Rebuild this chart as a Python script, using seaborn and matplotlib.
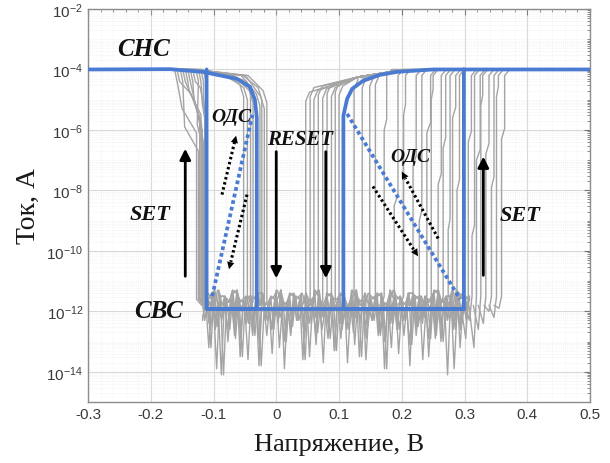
import numpy as np
import pandas as pd
import matplotlib
matplotlib.use("Agg")
import matplotlib.pyplot as plt
import seaborn as sns
from matplotlib.ticker import FixedLocator, MultipleLocator, NullFormatter

# ---------------- data (log10 of current, voltage in V) ----------------
x_ticks = [-0.3, -0.2, -0.1, 0.0, 0.1, 0.2, 0.3, 0.4, 0.5]
x_tick_labels = ["-0.3", "-0.2", "-0.1", "0", "0.1", "0.2", "0.3", "0.4", "0.5"]
y_tick_exps = [-14, -12, -10, -8, -6, -4, -2]
y_tick_labels = [r"$\mathdefault{10^{%d}}$" % e for e in y_tick_exps]

# blue "typical" cycle
blue_left_v = [-0.30, -0.169, -0.117, -0.063, -0.042, -0.034, -0.031, -0.031, -0.111, -0.111]
blue_left_log = [-4.0, -3.99, -4.08, -4.31, -4.57, -5.0, -5.6, -11.92, -11.92, -4.0]
blue_right_v = [0.50, 0.299, 0.299, 0.107, 0.107, 0.113, 0.121, 0.138, 0.165, 0.192, 0.25, 0.299]
blue_right_log = [-4.0, -4.0, -11.92, -11.92, -5.53, -4.97, -4.64, -4.38, -4.18, -4.08, -4.0, -4.0]
blue_floor_v = [-0.111, 0.299]
blue_floor_log = [-11.92, -11.92]
# blue dashed (ОДС branches)
dash_left_v = [-0.102, -0.038]
dash_left_log = [-11.5, -5.5]
dash_right_v = [0.113, 0.293]
dash_right_log = [-5.47, -11.6]

# gray cycles: negative-side LRS->HRS drops
neg_drop_start_v = [-0.162, -0.158, -0.153, -0.149, -0.145, -0.141, -0.137, -0.133, -0.128, -0.124, -0.120, -0.116]
neg_drop_knee_v = [-0.150, -0.136, -0.146, -0.128, -0.139, -0.124, -0.131, -0.121, -0.126, -0.118, -0.116, -0.113]
neg_drop_knee_log = [-5.3, -4.8, -5.9, -5.2, -4.7, -5.6, -5.0, -4.6, -5.8, -5.1, -4.9, -5.4]
neg_drop_end_v = [-0.127, -0.122, -0.124, -0.118, -0.120, -0.116, -0.119, -0.114, -0.117, -0.112, -0.113, -0.110]
# negative-side return branches
neg_ret_v = [-0.052, -0.046, -0.041, -0.037, -0.026, -0.023, -0.019, -0.015]
neg_ret_top_log = [-4.5, -4.6, -4.4, -4.7, -4.8, -4.6, -4.9, -4.7]
# positive-side reset branches
pos_reset_v = [0.047, 0.054, 0.060, 0.067, 0.074, 0.081, 0.088, 0.094, 0.100, 0.124, 0.137, 0.149, 0.158]
pos_reset_top_log = [-4.75, -4.6, -4.7, -4.55, -4.65, -4.5, -4.6, -4.45, -4.55, -4.35, -4.3, -4.25, -4.2]
# positive-side set branches
pos_set_v = [0.172, 0.188, 0.203, 0.218, 0.228, 0.240, 0.247, 0.258, 0.266, 0.274, 0.281, 0.288,
             0.306, 0.312, 0.319, 0.326, 0.334, 0.343, 0.351, 0.359]
pos_set_step_log = [-6.0, -8.5, -5.5, -7.2, -9.0, -6.1, -5.0, -7.8, -6.6, -9.3, -5.6, -8.0,
                    -6.4, -9.5, -7.0, -5.2, -6.8, -7.9, -4.9, -6.3]
pos_set_step_dv = [0.004, 0.006, 0.003, 0.005, 0.004, 0.006, 0.003, 0.005, 0.004, 0.003, 0.005, 0.004,
                   0.005, 0.004, 0.006, 0.003, 0.005, 0.004, 0.003, 0.005]
pos_set_floor_log = [-11.8, -11.9, -11.7, -11.8, -12.0, -11.8, -11.7, -11.9, -11.8, -12.1, -11.7, -11.9,
                     -12.9, -12.3, -13.2, -12.6, -12.4, -12.0, -12.2, -11.9]

# HRS floor noise, sampled every 0.01 V from -0.12 V to 0.30 V
floor_v = [round(-0.12 + 0.01 * i, 3) for i in range(43)]
floor_a = [-11.8, -12.6, -13.9, -12.2, -11.7, -12.9, -12.0, -13.6, -12.3, -11.8, -12.8, -12.1, -13.2, -11.9,
           -12.4, -12.0, -12.9, -11.8, -12.2, -13.7, -12.0, -11.9, -12.6, -12.1, -13.1, -11.8, -12.3, -12.0,
           -12.7, -11.9, -12.2, -13.4, -12.0, -11.8, -12.5, -12.1, -11.9, -12.8, -12.0, -11.8, -12.3, -12.0, -11.9]
floor_b = [-11.6, -11.4, -11.8, -11.5, -11.7, -11.3, -11.6, -11.9, -11.5, -11.4, -11.7, -11.6, -11.3, -11.8,
           -11.5, -11.6, -11.4, -11.7, -11.5, -11.9, -11.4, -11.6, -11.5, -11.7, -11.3, -11.6, -11.8, -11.5,
           -11.4, -11.7, -11.6, -11.5, -11.8, -11.4, -11.6, -11.5, -11.7, -11.4, -11.6, -11.5, -11.3, -11.6, -11.5]
floor_c = [-12.3, -13.2, -12.5, -14.1, -12.6, -12.2, -13.5, -12.4, -12.8, -13.8, -12.3, -12.6, -12.2, -13.0,
           -12.5, -12.3, -13.6, -12.4, -12.7, -12.2, -12.9, -13.3, -12.4, -12.6, -12.2, -13.5, -12.5, -12.3,
           -12.8, -13.9, -12.4, -12.6, -12.3, -13.1, -12.5, -12.2, -12.9, -12.4, -13.0, -12.3, -12.6, -12.4, -12.2]

# ---------------- build long tables ----------------
rows = []
def add(unit, vs, logs):
    for v, l in zip(vs, logs):
        rows.append({"unit": unit, "V": v, "I": 10.0 ** l})

u = 0
for s, kv, kl, e in zip(neg_drop_start_v, neg_drop_knee_v, neg_drop_knee_log, neg_drop_end_v):
    add(u, [-0.30, s, s + 0.004, kv, e, e, e + 0.008],
        [-4.0, -4.0, -4.4, kl, kl - 0.8, -11.6, -11.8]); u += 1
for v, t in zip(neg_ret_v, neg_ret_top_log):
    add(u, [-0.11, v - 0.03, v - 0.006, v, v], [-4.05, -4.2, t, t - 0.4, -11.7]); u += 1
for v, t in zip(pos_reset_v, pos_reset_top_log):
    add(u, [0.50, 0.24, 0.19, 0.13, v + 0.006, v, v], [-4.0, -4.0, -4.05, -4.25, t, t - 0.3, -11.7]); u += 1
for v, st, dv, fl in zip(pos_set_v, pos_set_step_log, pos_set_step_dv, pos_set_floor_log):
    add(u, [v - 0.012, v - 0.004, v, v, v + dv, v + dv, v + dv + 0.008, 0.50],
        [-11.8, fl, -11.5, st, st + 0.35, -4.2, -4.0, -4.0]); u += 1

def add_zigzag(unit, la, lb, shift):
    vs, ls = [], []
    for v, a, b in zip(floor_v, la, lb):
        vs += [v + shift, v + shift + 0.005]
        ls += [a, b]
    add(unit, vs, ls)

add_zigzag(u, floor_b, floor_a, 0.0); u += 1
add_zigzag(u, floor_c, floor_b, 0.0025); u += 1
add_zigzag(u, floor_b[::-1], floor_c, 0.001); u += 1
add_zigzag(u, floor_a[::-1], floor_b[::-1], 0.0035); u += 1
add_zigzag(u, floor_b, floor_b[::-1], 0.0015); u += 1
add_zigzag(u, floor_c[::-1], floor_b, 0.003); u += 1
add_zigzag(u, floor_b[::-1], floor_b, 0.002); u += 1
df_gray = pd.DataFrame(rows)

rows = []
add(0, blue_left_v, blue_left_log)
add(1, blue_right_v, blue_right_log)
add(2, blue_floor_v, blue_floor_log)
df_blue = pd.DataFrame(rows)

rows = []
add(0, dash_left_v, dash_left_log)
add(1, dash_right_v, dash_right_log)
df_dash = pd.DataFrame(rows)

# ---------------- plotting ----------------
sns.set_theme(style="white")
plt.rcParams["font.family"] = ["Liberation Sans", "DejaVu Sans"]
plt.rcParams["mathtext.fontset"] = "custom"
plt.rcParams["mathtext.rm"] = "Liberation Sans"
plt.rcParams["mathtext.it"] = "Liberation Sans:italic"

GRAY = "#a4a4a4"
BLUE = "#4a7bd3"
SERIF = ["Liberation Serif", "DejaVu Serif"]

fig = plt.figure(figsize=(6.1, 4.64), dpi=100)
ax = fig.add_axes([88 / 610, 61 / 464, 502 / 610, 393 / 464])
ax.set_yscale("log")

sns.lineplot(data=df_gray, x="V", y="I", units="unit", estimator=None, sort=False,
             color=GRAY, lw=1.0, ax=ax, legend=False, zorder=2)
sns.lineplot(data=df_blue, x="V", y="I", units="unit", estimator=None, sort=False,
             color=BLUE, lw=2.7, ax=ax, legend=False, zorder=4)
for unit, g in df_dash.groupby("unit"):
    ax.plot(g["V"], g["I"], color=BLUE, lw=2.7, ls=(0, (1.0, 0.8)),
            dash_capstyle="butt", zorder=4)

ax.set_xlim(-0.3, 0.5)
ax.set_ylim(1e-15, 1e-2)
ax.set_xticks(x_ticks)
ax.set_xticklabels(x_tick_labels)
ax.xaxis.set_minor_locator(MultipleLocator(0.02))
ax.set_yticks([10.0 ** e for e in y_tick_exps])
ax.set_yticklabels(y_tick_labels)
minor_y = [m * 10.0 ** d for d in range(-15, -2) for m in range(1, 10) if not (m == 1 and d % 2 == 0)]
ax.yaxis.set_minor_locator(FixedLocator(minor_y))
ax.yaxis.set_minor_formatter(NullFormatter())
ax.set_ylim(1e-15, 1e-2)

ax.grid(which="major", color="#d9d9d9", lw=0.8, zorder=0)
ax.grid(which="minor", color="#ebebeb", lw=0.5, ls=":", zorder=0)
ax.set_axisbelow(True)
ax.tick_params(which="both", direction="in", top=True, right=True, color="#777777",
               labelcolor="#3a3a3a", labelsize=11)
ax.tick_params(which="major", length=4, width=0.8)
ax.tick_params(which="minor", length=2, width=0.6)
for sp in ax.spines.values():
    sp.set_color("#8c8c8c")
    sp.set_linewidth(1.0)

ax.set_xlabel("Напряжение, В", family=SERIF, fontsize=19, color="#1a1a1a", labelpad=9)
ax.set_ylabel("Ток, А", family=SERIF, fontsize=20, color="#1a1a1a", labelpad=4)

# ---------------- annotations ----------------
def lab(v, lg, s, size):
    ax.text(v, 10 ** lg, s, family=SERIF, fontsize=size, fontweight="bold", fontstyle="italic",
            ha="center", va="center", color="#111111", zorder=6)

lab(-0.212, -3.32, "СНС", 18)
lab(-0.187, -11.97, "СВС", 18)
lab(-0.201, -8.77, "SET", 16)
lab(0.388, -8.83, "SET", 16)
lab(0.038, -6.29, "RESET", 15)
lab(-0.072, -5.56, "ОДС", 14)
lab(0.213, -6.88, "ОДС", 14)

def arrow(v0, l0, v1, l1):
    props = dict(arrowstyle="-|>", color="black", lw=2.0, mutation_scale=16, shrinkA=0, shrinkB=0)
    ax.annotate("", xy=(v1, 10 ** l1), xytext=(v0, 10 ** l0), arrowprops=props, zorder=6)

def dotted_arrow(v0, l0, v1, l1):
    # dotted shaft (stops a bit before the head) + small solid head
    f = 0.9
    vm, lm = v0 + (v1 - v0) * f, l0 + (l1 - l0) * f
    ax.plot([v0, vm], [10 ** l0, 10 ** lm], color="black", lw=2.2, ls=(0, (0.8, 0.9)),
            dash_capstyle="butt", zorder=6)
    g = 0.8
    vs, ls_ = v0 + (v1 - v0) * g, l0 + (l1 - l0) * g
    ax.annotate("", xy=(v1, 10 ** l1), xytext=(vs, 10 ** ls_),
                arrowprops=dict(arrowstyle="-|>", color="black", lw=0.01, mutation_scale=13,
                                shrinkA=0, shrinkB=0), zorder=6)

arrow(-0.145, -10.84, -0.145, -6.62)
arrow(0.0, -6.72, 0.0, -10.91)
arrow(0.079, -6.72, 0.079, -10.91)
arrow(0.330, -10.81, 0.330, -6.88)
dotted_arrow(-0.0865, -8.14, -0.064, -6.19)
dotted_arrow(-0.0466, -8.14, -0.0753, -10.61)
dotted_arrow(0.258, -9.59, 0.200, -7.38)
dotted_arrow(0.154, -7.87, 0.226, -10.18)

fig.savefig("out.png", dpi=100)
